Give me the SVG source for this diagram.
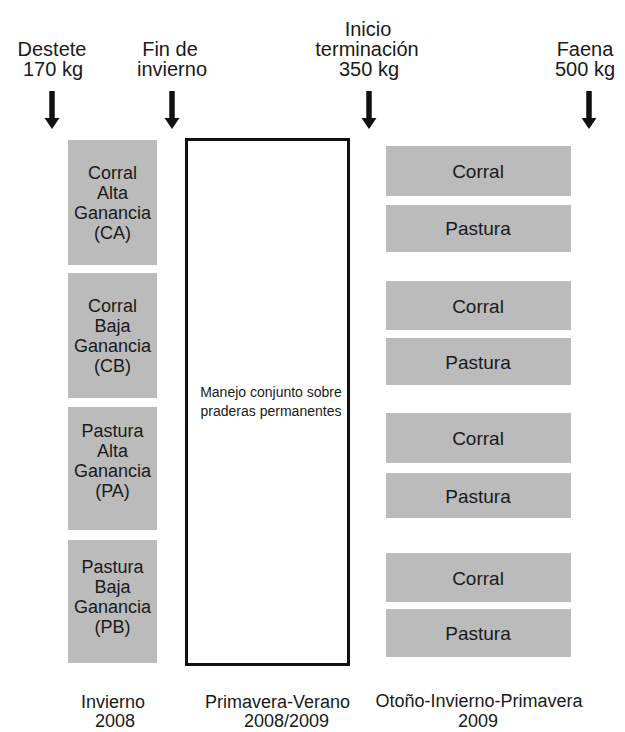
<svg xmlns="http://www.w3.org/2000/svg" width="625" height="732" viewBox="0 0 625 732">
<style>
text{font-family:"Liberation Sans",Arial,sans-serif;fill:#1a1a1a;text-anchor:middle}
.hd{font-size:20px}
.lb{font-size:18px}
.rb{font-size:19px}
.ft{font-size:18px}
.sm{font-size:14px}
.box{fill:#bbbbbb}
.arr{stroke:#111;stroke-width:5.5;fill:none}
</style>
<defs>
<marker id="ah" markerUnits="userSpaceOnUse" viewBox="0 -8 12 16" markerWidth="12" markerHeight="16" refX="0" refY="0" orient="auto">
<path d="M0,-7.5 L11,0 L0,7.5 Z" fill="#111"/>
</marker>
</defs>
<rect width="625" height="732" fill="#fff"/>

<g id="hdr-destete"><text class="hd" x="52" y="56">Destete</text><text class="hd" x="53" y="76">170 kg</text></g>
<g id="hdr-fin"><text class="hd" x="170" y="56">Fin de</text><text class="hd" x="172" y="76">invierno</text></g>
<g id="hdr-inicio"><text class="hd" x="368" y="36">Inicio</text><text class="hd" x="367" y="56">terminación</text><text class="hd" x="369" y="76">350 kg</text></g>
<g id="hdr-faena"><text class="hd" x="585" y="56">Faena</text><text class="hd" x="585" y="76">500 kg</text></g>

<g id="connectors">
<line class="arr" x1="52" y1="91" x2="52" y2="118" marker-end="url(#ah)"/>
<line class="arr" x1="172" y1="91" x2="172" y2="118" marker-end="url(#ah)"/>
<line class="arr" x1="369" y1="91" x2="369" y2="118" marker-end="url(#ah)"/>
<line class="arr" x1="589" y1="91" x2="589" y2="118" marker-end="url(#ah)"/>
</g>

<g id="ca"><rect class="box" x="68" y="140" width="89" height="125"/>
<text class="lb" x="112.5" y="179">Corral</text><text class="lb" x="112.5" y="199">Alta</text><text class="lb" x="112.5" y="219">Ganancia</text><text class="lb" x="112.5" y="239">(CA)</text></g>
<g id="cb"><rect class="box" x="68" y="273" width="89" height="125"/>
<text class="lb" x="112.5" y="312">Corral</text><text class="lb" x="112.5" y="332">Baja</text><text class="lb" x="112.5" y="352">Ganancia</text><text class="lb" x="112.5" y="372">(CB)</text></g>
<g id="pa"><rect class="box" x="68" y="407" width="89" height="123"/>
<text class="lb" x="112.5" y="437">Pastura</text><text class="lb" x="112.5" y="457">Alta</text><text class="lb" x="112.5" y="477">Ganancia</text><text class="lb" x="112.5" y="497">(PA)</text></g>
<g id="pb"><rect class="box" x="68" y="540" width="89" height="123"/>
<text class="lb" x="112.5" y="573">Pastura</text><text class="lb" x="112.5" y="593">Baja</text><text class="lb" x="112.5" y="613">Ganancia</text><text class="lb" x="112.5" y="633">(PB)</text></g>

<g id="manejo"><rect x="186.5" y="139.5" width="162" height="525" fill="#fff" stroke="#111" stroke-width="3"/>
<text class="sm" x="271" y="397">Manejo conjunto sobre</text><text class="sm" x="271" y="416">praderas permanentes</text></g>

<g id="r1"><rect class="box" x="386" y="146" width="185" height="50"/><text class="rb" x="478" y="178">Corral</text></g>
<g id="r2"><rect class="box" x="386" y="205" width="185" height="47"/><text class="rb" x="478" y="235">Pastura</text></g>
<g id="r3"><rect class="box" x="386" y="281" width="185" height="49"/><text class="rb" x="478" y="312.5">Corral</text></g>
<g id="r4"><rect class="box" x="386" y="338" width="185" height="47"/><text class="rb" x="478" y="368.5">Pastura</text></g>
<g id="r5"><rect class="box" x="386" y="413" width="185" height="50"/><text class="rb" x="478" y="445">Corral</text></g>
<g id="r6"><rect class="box" x="386" y="473" width="185" height="45"/><text class="rb" x="478" y="502.5">Pastura</text></g>
<g id="r7"><rect class="box" x="386" y="553" width="185" height="49"/><text class="rb" x="478" y="584.5">Corral</text></g>
<g id="r8"><rect class="box" x="386" y="609" width="185" height="48"/><text class="rb" x="478" y="640">Pastura</text></g>

<g id="ft-invierno"><text class="ft" x="113" y="708">Invierno</text><text class="ft" x="115" y="727">2008</text></g>
<g id="ft-primavera"><text class="ft" x="277.5" y="708">Primavera-Verano</text><text class="ft" x="286.5" y="727">2008/2009</text></g>
<g id="ft-otono"><text class="ft" x="479" y="707">Otoño-Invierno-Primavera</text><text class="ft" x="478" y="727">2009</text></g>
</svg>
